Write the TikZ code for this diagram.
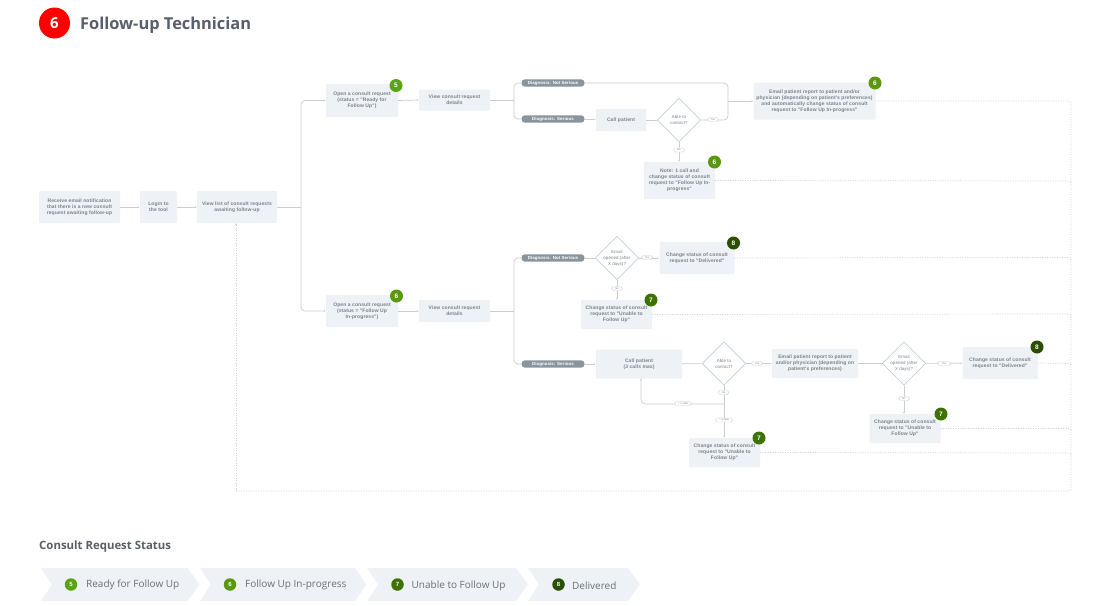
\documentclass[tikz,border=0pt]{standalone}
\usepackage{fontspec}
\setmainfont{Open Sans}
\newfontfamily\robo[LetterSpace=2]{Liberation Sans}
\usetikzlibrary{arrows.meta,shapes.geometric,calc}
\definecolor{boxc}{HTML}{EEF1F5}
\definecolor{linec}{HTML}{C9CED3}
\definecolor{dmc}{HTML}{C5D0DB}
\definecolor{txtc}{HTML}{7A838C}
\definecolor{lgc}{HTML}{697279}
\definecolor{pillc}{HTML}{8A949E}
\definecolor{titlec}{HTML}{57606A}
\definecolor{dg}{HTML}{CDD1D5}
\definecolor{gfive}{HTML}{5AA313}
\definecolor{gsix}{HTML}{5A990F}
\definecolor{gseven}{HTML}{3F7300}
\definecolor{geight}{HTML}{2B4F00}
\tikzset{
 bx/.style={fill=boxc,rounded corners=0.8pt,text=txtc,align=center,inner sep=0pt,font=\robo\fontsize{5}{6}\selectfont\bfseries},
 dm/.style={diamond,aspect=1,draw=dmc,fill=white,line width=.7pt,text=txtc,align=center,inner sep=0pt,minimum width=43.5pt,minimum height=43.5pt,font=\robo\fontsize{4.4}{6}\selectfont},
 pill/.style={fill=pillc,rounded corners=3.4pt,text=white,minimum width=63pt,minimum height=7.4pt,inner sep=0pt,font=\robo\fontsize{4.4}{5}\selectfont\bfseries},
 tag/.style={draw=linec,fill=white,rounded corners=1.8pt,text=txtc,inner sep=0pt,minimum height=4pt,font=\robo\fontsize{2.6}{3}\selectfont},
 bdg/.style={circle,text=white,minimum size=13pt,inner sep=0pt,font=\robo\fontsize{6.5}{7}\selectfont\bfseries},
 ln/.style={draw=linec,line width=.7pt,rounded corners=4pt},
 ar/.style={ln,-{Latex[length=1.8pt,width=1.8pt]}},
 dt/.style={draw=dg,line width=.7pt,dash pattern=on 1pt off 1.5pt,rounded corners=2pt},
 chev/.style={fill=boxc},
 lg/.style={text=lgc,anchor=west,inner sep=0pt,font=\fontsize{10}{11}\selectfont},
 lb/.style={circle,text=white,minimum size=12.5pt,inner sep=0pt,font=\robo\fontsize{6}{6}\selectfont\bfseries},
}
\newcommand{\bxn}[6]{\node[bx,minimum width=#4pt,minimum height=#5pt] (#1) at (#2,#3) {#6};}
\begin{document}
\begin{tikzpicture}[x=1pt,y=-1pt]
\useasboundingbox (0,0) rectangle (1110,605);
\fill[white] (0,0) rectangle (1110,605);
% title
\node[circle,fill=red,minimum size=31pt,inner sep=0pt,text=white,font=\bfseries\fontsize{15}{16}\selectfont] (tb) at (54.5,23) {\raisebox{-1pt}{6}};
\node[anchor=west,inner sep=0pt,text=titlec,font=\bfseries\fontsize{16.4}{18}\selectfont] (tt) at (80,25) {Follow-up Technician};
% boxes
\bxn{a}{79.5}{207}{81}{32}{Receive email notification\\that there is a new consult\\request awaiting follow-up}
\bxn{b}{158.5}{207}{37}{32}{Login to\\the tool}
\bxn{c}{237}{207}{80}{32}{View list of consult requests\\awaiting follow-up}
\bxn{d}{362}{100.5}{72}{33}{Open a consult request\\(status = "Ready for\\Follow Up")}
\bxn{e}{454.5}{100}{71}{21}{View consult request\\details}
\coordinate (pA) at (514,100);
\node[pill] (p1) at (553,83) {Diagnosis: Not Serious};
\node[pill] (p2) at (553,119) {Diagnosis: Serious};
\bxn{f}{621}{120}{50}{22}{Call patient}
\node[dm] (g) at (679,120) {Able to\\contact?};
\bxn{h}{814.5}{101}{122}{37}{Email patient report to patient and/or\\physician (depending on patient's preferences)\\and automatically change status of consult\\request to "Follow Up In-progress"}
\bxn{i}{679.5}{180.5}{71}{37}{Note: 1 call and\\change status of consult\\request to "Follow Up In-\\progress"}
\bxn{j}{362}{311}{72}{32}{Open a consult request\\(status = "Follow Up\\In-progress")}
\bxn{k}{454.5}{311}{71}{22}{View consult request\\details}
\coordinate (pB) at (514,311);
\node[pill] (p3) at (553,258) {Diagnosis: Not Serious};
\node[pill] (p4) at (553,364) {Diagnosis: Serious};
\node[dm] (l) at (617,258) {Email\\opened (after\\X days)?};
\bxn{m}{697}{258}{75}{32}{Change status of consult\\request to "Delivered"}
\bxn{n}{616.5}{314.5}{71}{29}{Change status of consult\\request to "Unable to\\Follow Up"}
\bxn{o}{639}{364}{86}{29}{Call patient\\(3 calls max)}
\node[dm] (q) at (724,363.5) {Able to\\contact?};
\bxn{r}{815}{363.5}{86}{29}{Email patient report to patient\\and/or physician (depending on\\patient's preferences)}
\node[dm] (s) at (904,363.5) {Email\\opened (after\\X days)?};
\bxn{t}{1000}{363}{75}{32}{Change status of consult\\request to "Delivered"}
\bxn{u}{905}{428.5}{71}{29}{Change status of consult\\request to "Unable to\\Follow Up"}
\bxn{v}{724.5}{452.5}{71}{29}{Change status of consult\\request to "Unable to\\Follow Up"}
% solid connectors
\draw[ar] (a) -- (b);
\draw[ar] (b) -- (c);
\coordinate (cj) at (301,207);
\draw[ln] (c.east) -- (cj);
\draw[ar] (cj) |- (d.west);
\draw[ar] (cj) |- (j.west);
\draw[ar] (d.east) -- (e.west);
\draw[ln] (e.east) -- (pA);
\draw[ln] (pA) |- (p1.west);
\draw[ln] (pA) |- (p2.west);
\draw[ar] (p2) -- (f);
\draw[ln] (f) -- (g);
\coordinate (gy) at (728,101);
\draw[ln] (p1.east) -| (gy);
\draw[ln] (g.east) -| (gy);
\draw[ar] (gy) -- (h.west |- gy);
\draw[ar] (g.south) -- (i.north -| g.south);
\draw[ar] (j.east) -- (k.west);
\draw[ln] (k.east) -- (pB);
\draw[ln] (pB) |- (p3.west);
\draw[ln] (pB) |- (p4.west);
\draw[ln] (p3) -- (l);
\draw[ar] (l) -- (m);
\draw[ar] (l.south) -- (n.north -| l.south);
\draw[ar] (p4) -- (o);
\draw[ln] (o) -- (q);
\draw[ar] (q) -- (r);
\draw[ln] (r) -- (s);
\draw[ar] (s) -- (t);
\draw[ar] (s.south) -- (u.north -| s.south);
\draw[ar] (q.south) -- (v.north -| q.south);
\coordinate (qj) at (724.5,404);
\coordinate (ob) at (641,378.5);
\draw[ar] (qj) -| (ob);
% tags
\node[tag,minimum width=11pt] at (713,119.5) {Yes};
\node[tag,minimum width=11pt] at (679,150) {No};
\node[tag,minimum width=11pt] at (647,257.5) {Yes};
\node[tag,minimum width=11pt] at (617,288.5) {No};
\node[tag,minimum width=11pt] at (757,363.5) {Yes};
\node[tag,minimum width=11pt] at (723.5,392.5) {No};
\node[tag,minimum width=17pt] at (683,403.5) {< 3 calls};
\node[tag,minimum width=17pt] at (724,420) {= 3 calls};
\node[tag,minimum width=13pt] at (944,363.5) {Yes};
\node[tag,minimum width=11pt] at (904,398.5) {No};
% dotted
\coordinate (bb) at (1071,491);
\coordinate (cb) at (236,223);
\draw[dt] (h.east) -| (bb) -- (236,491);
\draw[dt,-{Latex[length=2pt,width=2pt]}] (236,491) -- (cb);
\draw[dt] (i.east) -- (1071,181) -- (1071,184);
\draw[dt] (m.east) -- (1071,257.5) -- (1071,260);
\draw[dt] (n.east) -- (1071,314) -- (1071,317);
\draw[dt] (t.east) -- (1071,363.5) -- (1071,366);
\draw[dt] (u.east) -- (1071,428.5) -- (1071,431);
\draw[dt] (v.east) -- (1071,453) -- (1071,456);
% badges
\node[bdg,fill=gfive] at (396,85.5) {5};
\node[bdg,fill=gsix] at (875,83) {6};
\node[bdg,fill=gsix] at (714.5,162) {6};
\node[bdg,fill=gsix] at (396.5,296) {6};
\node[bdg,fill=geight] at (733.5,243) {8};
\node[bdg,fill=gseven] at (651,300) {7};
\node[bdg,fill=geight] at (1037,347) {8};
\node[bdg,fill=gseven] at (941,414) {7};
\node[bdg,fill=gseven] at (759,438) {7};
% legend
\node[anchor=west,inner sep=0pt,text=titlec,font=\bfseries\fontsize{11.4}{12}\selectfont] (lt) at (39,547) {Consult Request Status};
\fill[chev] (41,568) -- (187.5,568) -- (199.5,584.5) -- (187.5,601) -- (41,601) -- (52,584.5) -- cycle;
\fill[chev] (200,568) -- (355,568) -- (366.5,584.5) -- (355,601) -- (200,601) -- (211,584.5) -- cycle;
\fill[chev] (367,568) -- (516,568) -- (528,584.5) -- (516,601) -- (367,601) -- (378,584.5) -- cycle;
\fill[chev] (528,568) -- (628,568) -- (640,584.5) -- (628,601) -- (528,601) -- (539,584.5) -- cycle;
\node[lb,fill=gfive] at (71,584.5) {5};
\node[lg] at (86,585) {Ready for Follow Up};
\node[lb,fill=gsix] at (230,584.5) {6};
\node[lg] at (245,585) {Follow Up In-progress};
\node[lb,fill=gseven] at (397.5,584.5) {7};
\node[lg] at (411.5,585.5) {Unable to Follow Up};
\node[lb,fill=geight] at (558.5,584.5) {8};
\node[lg] at (572,585.5) {Delivered};
\end{tikzpicture}
\end{document}
